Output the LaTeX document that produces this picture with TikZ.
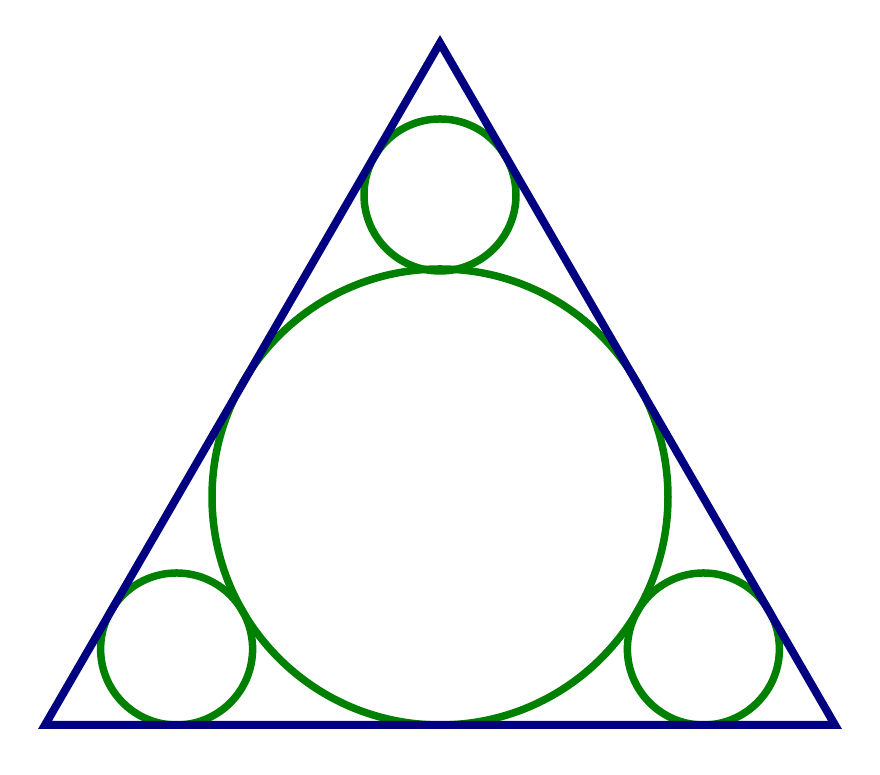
\documentclass[tikz,border=0pt]{standalone}
\usepackage{tikz}
\usetikzlibrary{calc}

\begin{document}
\begin{tikzpicture}[x=1cm,y=1cm]
\useasboundingbox (0,0) rectangle (8.8,7.75);
\fill[white] (0,0) rectangle (8.8,7.75);
\coordinate (A) at (0.45,0.50);
\coordinate (B) at (8.35,0.50);
\coordinate (C) at (4.40,7.32);

\coordinate (I) at (4.40,2.78);
\coordinate (Ia) at (1.766,1.26);
\coordinate (Ib) at (7.034,1.26);
\coordinate (Ic) at (4.40,5.80);

\draw[green!50!black,line width=0.075cm] (I) circle (2.28);
\draw[green!50!black,line width=0.075cm] (Ia) circle (0.76);
\draw[green!50!black,line width=0.075cm] (Ib) circle (0.76);
\draw[green!50!black,line width=0.075cm] (Ic) circle (0.76);

\draw[blue!50!black,line width=0.08cm] (A) -- (B) -- (C) -- cycle;

\end{tikzpicture}
\end{document}
